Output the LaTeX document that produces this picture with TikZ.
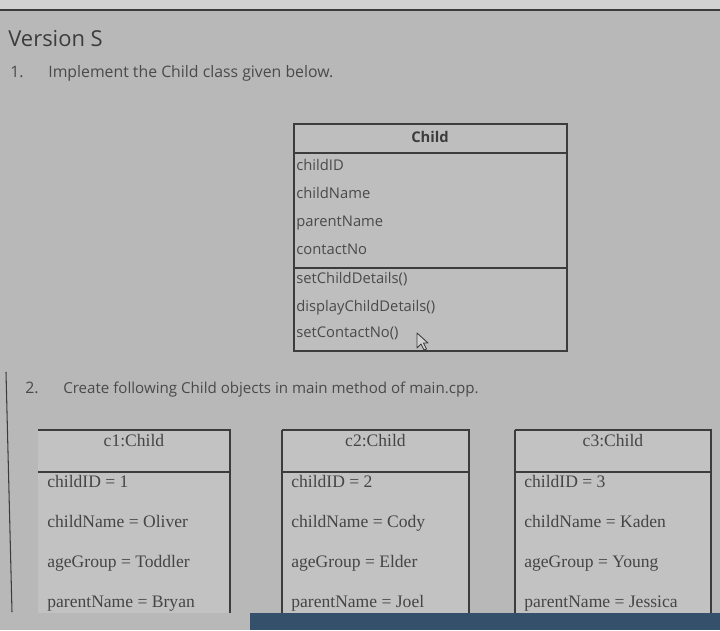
\documentclass[tikz,border=0pt]{standalone}
\usepackage{fontspec}
\setmainfont{Liberation Serif}
\newfontfamily\uifont{Open Sans}
\definecolor{pagegray}{HTML}{B8B8B8}
\definecolor{toplight}{HTML}{D2D2D2}
\definecolor{boxgray}{HTML}{C2C2C2}
\definecolor{linegray}{HTML}{3C3C3C}
\definecolor{uitext}{HTML}{4A4A4A}
\definecolor{serifgray}{HTML}{454545}
\definecolor{taskbar}{HTML}{34506A}

\begin{document}
\begin{tikzpicture}[x=0.02cm,y=-0.02cm,
  line/.style={draw=linegray,line width=0.6pt},
  ui/.style={font=\uifont\fontsize{9}{11}\selectfont,text=uitext,inner sep=0pt,anchor=west,
    text height=1.6ex,text depth=0.4ex},
  member/.style={font=\uifont\fontsize{8.4}{10}\selectfont,text=uitext,inner sep=0pt,anchor=west,
    text height=1.6ex,text depth=0.4ex},
  slot/.style={font=\fontsize{10}{12}\selectfont,text=serifgray,inner sep=0pt,anchor=west,
    text height=1.6ex,text depth=0.4ex}]
  \useasboundingbox (0,0) rectangle (720,630);
  \fill[pagegray] (0,0) rectangle (720,630);
  \fill[toplight] (0,0) rectangle (720,10);
  \draw[line] (0,10) -- (720,10);

  % heading and task 1
  \node[font=\uifont\fontsize{12.5}{15}\selectfont,text=linegray,inner sep=0pt,anchor=west] (version) at (8,39) {Version S};
  \node[ui] (num1) at (10,73) {1.};
  \node[ui] (task1) at (48,73) {Implement the Child class given below.};

  % class box
  \draw[line,fill=boxgray!60!pagegray] (294,124) rectangle (567,351);
  \draw[line] (294,153) -- (567,153);
  \draw[line] (294,268) -- (567,268);
  \node[font=\uifont\bfseries\fontsize{8.4}{10}\selectfont,text=linegray,inner sep=0pt] (cls) at (430,137) {Child};
  \node[member] (a1) at (296,166) {childID};
  \node[member] (a2) at (296,194) {childName};
  \node[member] (a3) at (296,222) {parentName};
  \node[member] (a4) at (296,250) {contactNo};
  \node[member] (m1) at (296,279) {setChildDetails()};
  \node[member] (m2) at (296,307) {displayChildDetails()};
  \node[member] (m3) at (296,333) {setContactNo()};

  % mouse pointer
  \draw[linegray,fill=toplight,line width=0.5pt,line join=round]
    (417,333) -- (417,348) -- (421,344) -- (424,350) -- (426.5,349) -- (423.5,343) -- (428,343) -- cycle;

  % task 2
  \node[ui] (num2) at (25,389) {2.};
  \node[ui,font=\uifont\fontsize{8.6}{11}\selectfont] (task2) at (63,389) {Create following Child objects in main method of main.cpp.};
  \draw[line] (6,372) -- (12,612);

  % objects
  \foreach \l/\r/\obj/\id/\cname/\age/\pname in
    {38/230/c1/1/Oliver/Toddler/Bryan,
     282/469/c2/2/Cody/Elder/Joel,
     515/711/c3/3/Kaden/Young/Jessica}{
    \fill[boxgray] (\l,430) rectangle (\r,613);
    \draw[line] (\r,613) |- (\l,430);
    \draw[line] (\l,472) -- (\r,472);
    \node[slot,anchor=center] (\obj-head) at ({(\l+\r)/2},442) {\obj:Child};
    \node[slot] (\obj-id) at (\l+9,483) {childID = \id};
    \node[slot] (\obj-name) at (\l+9,523) {childName = \cname};
    \node[slot] (\obj-age) at (\l+9,563) {ageGroup = \age};
    \node[slot] (\obj-parent) at (\l+9,603) {parentName = \pname};
  }
  \draw[line] (282,430) -- (282,613);
  \draw[line] (515,430) -- (515,613);

  % taskbar
  \fill[taskbar] (250,613) rectangle (720,630);
\end{tikzpicture}
\end{document}
